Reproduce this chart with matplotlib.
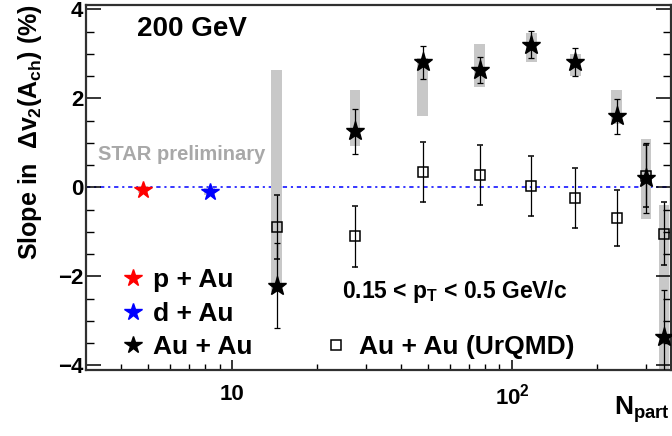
import numpy as np
import matplotlib.pyplot as plt
from matplotlib.ticker import FixedLocator, MultipleLocator, NullFormatter
from matplotlib.lines import Line2D

plt.rcParams['font.family'] = ['Liberation Sans', 'DejaVu Sans']
plt.rcParams['font.weight'] = 'bold'
plt.rcParams['mathtext.fontset'] = 'custom'
plt.rcParams['mathtext.rm'] = 'Liberation Sans:bold'
plt.rcParams['mathtext.it'] = 'Liberation Sans:bold'
plt.rcParams['mathtext.bf'] = 'Liberation Sans:bold'

# small systems
npart_pau = [4.8]
slope_pau = [-0.05]
sys_pau = [0.08]
npart_dau = [8.3]
slope_dau = [-0.1]
sys_dau = [0.08]

# Au+Au data
npart_auau = [14.4, 27.4, 47.8, 76.4, 117, 168, 236, 300, 348]
slope_auau = [-2.21, 1.26, 2.81, 2.64, 3.21, 2.82, 1.60, 0.21, -3.36]
stat_auau = [0.96, 0.50, 0.37, 0.30, 0.30, 0.32, 0.39, 0.78, 1.06]
sys_lo_auau = [-2.35, 0.92, 1.60, 2.26, 2.83, 2.50, 1.43, -0.71, -4.5]
sys_hi_auau = [2.64, 2.18, 2.90, 3.22, 3.47, 3.00, 2.18, 1.09, -0.39]

# UrQMD
npart_urqmd = [14.4, 27.4, 47.8, 76.4, 117, 168, 236, 300, 348]
slope_urqmd = [-0.89, -1.10, 0.34, 0.28, 0.03, -0.24, -0.69, 0.26, -1.04]
err_urqmd = [0.72, 0.68, 0.67, 0.67, 0.68, 0.67, 0.63, 0.70, 0.70]

gray = '#c8c8c8'
half = 10 ** 0.019


def sys_boxes(ax, x, lo, hi):
    x = np.asarray(x, float)
    lo = np.asarray(lo, float)
    hi = np.asarray(hi, float)
    ax.bar(x / half, hi - lo, width=x * half - x / half, bottom=lo,
           align='edge', color=gray, edgecolor='none', zorder=1)


fig = plt.figure(figsize=(6.72, 4.36), dpi=100)
ax = fig.add_axes([0.128, 0.152, 0.8705, 0.8365])
ax.set_xscale('log')
ax.set_xlim(3.0, 369)
ax.set_ylim(-4.1, 4.1)

ax.axhline(0, color='blue', lw=1.1, dashes=(2.8, 2.5, 1.4, 2.5), zorder=0.5)

sys_boxes(ax, npart_pau, np.array(slope_pau) - sys_pau, np.array(slope_pau) + sys_pau)
sys_boxes(ax, npart_dau, np.array(slope_dau) - sys_dau, np.array(slope_dau) + sys_dau)
sys_boxes(ax, npart_auau, sys_lo_auau, sys_hi_auau)

ax.errorbar(npart_urqmd, slope_urqmd, yerr=err_urqmd, fmt='s', ms=7.5,
            mfc='none', mec='black', mew=1.1, ecolor='black', elinewidth=0.9,
            capsize=2, capthick=0.9, zorder=3)
ax.errorbar(npart_auau, slope_auau, yerr=stat_auau, fmt='*', ms=14,
            color='black', ecolor='black', elinewidth=0.9,
            capsize=2, capthick=0.9, zorder=4)
ax.plot(npart_pau, slope_pau, '*', ms=13, color='red', zorder=4)
ax.plot(npart_dau, slope_dau, '*', ms=13, color='blue', zorder=4)

# axes styling
for s in ax.spines.values():
    s.set_linewidth(1.6)
    s.set_color('#303030')
ax.xaxis.set_major_locator(FixedLocator([10, 100]))
ax.set_xticklabels(['10', r'$10^{2}$'])
ax.xaxis.set_minor_locator(FixedLocator([4, 5, 6, 7, 8, 9, 20, 30, 40, 50, 60, 70, 80, 90, 200, 300]))
ax.xaxis.set_minor_formatter(NullFormatter())
ax.yaxis.set_major_locator(MultipleLocator(2))
ax.yaxis.set_minor_locator(MultipleLocator(0.5))
ax.set_yticks([-4, -2, 0, 2, 4])
ax.set_yticklabels(['\u22124', '\u22122', '0', '2', '4'])
ax.tick_params(axis='y', which='major', direction='in', length=11, width=1.1,
               right=True, labelsize=16, pad=2)
ax.tick_params(axis='y', which='minor', direction='in', length=5.5, width=1.0, right=True)
ax.tick_params(axis='x', which='major', direction='in', length=7, width=1.1,
               labelsize=16, pad=10)
ax.tick_params(axis='x', which='minor', direction='in', length=4, width=1.0)

fig.text(0.045, 0.99, r'Slope in  $\Delta v_{2}(A_{ch})$ (%)', rotation=90,
         ha='center', va='top', fontsize=18)
fig.text(0.997, 0.025, r'$N_{part}$', ha='right', va='bottom', fontsize=19)

ax.text(0.088, 0.935, '200 GeV', transform=ax.transAxes, fontsize=20,
        ha='left', va='center')
ax.text(0.021, 0.59, 'STAR preliminary', transform=ax.transAxes, fontsize=14.5,
        color='#a8a8a8', ha='left', va='center')
ax.text(0.438, 0.215, r'0.15 < $p_{T}$ < 0.5 GeV/c', transform=ax.transAxes,
        fontsize=16.5, ha='left', va='center')

h1 = [Line2D([], [], ls='none', marker='*', ms=13, color='red'),
      Line2D([], [], ls='none', marker='*', ms=13, color='blue'),
      Line2D([], [], ls='none', marker='*', ms=13, color='black')]
leg1 = ax.legend(h1, ['p + Au', 'd + Au', 'Au + Au'], loc='center left',
                 bbox_to_anchor=(0.06, 0.153), frameon=False, fontsize=19,
                 handlelength=0.9, handletextpad=0.3, labelspacing=0.36,
                 borderpad=0, borderaxespad=0)
ax.add_artist(leg1)
h2 = [Line2D([], [], ls='none', marker='s', ms=7, mfc='none', mec='black', mew=1.1)]
ax.legend(h2, ['Au + Au (UrQMD)'], loc='center left',
          bbox_to_anchor=(0.41, 0.062), frameon=False, fontsize=19,
          handlelength=0.8, handletextpad=0.45, borderpad=0, borderaxespad=0)

fig.savefig('out.png', dpi=100)
